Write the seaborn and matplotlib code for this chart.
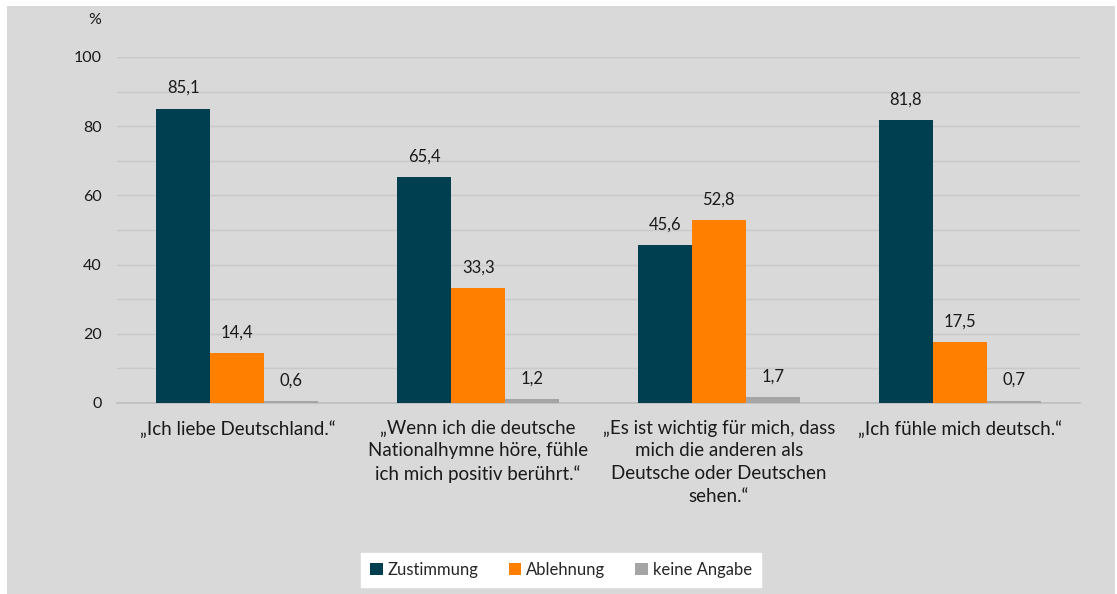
import pandas as pd
import matplotlib.pyplot as plt
from matplotlib.patches import Rectangle
import seaborn as sns

# Aussagen (x-Achse)
statements = [
    "\u201eIch liebe Deutschland.\u201c",
    "\u201eWenn ich die deutsche\nNationalhymne h\u00f6re, f\u00fchle\nich mich positiv ber\u00fchrt.\u201c",
    "\u201eEs ist wichtig f\u00fcr mich, dass\nmich die anderen als\nDeutsche oder Deutschen\nsehen.\u201c",
    "\u201eIch f\u00fchle mich deutsch.\u201c",
]
answers = ["Zustimmung", "Ablehnung", "keine Angabe"]

zustimmung = [85.1, 65.4, 45.6, 81.8]
ablehnung = [14.4, 33.3, 52.8, 17.5]
keine_angabe = [0.6, 1.2, 1.7, 0.7]

colors = ["#003f4f", "#ff7f00", "#a5a5a5"]

df = pd.DataFrame({
    "statement": statements * 3,
    "answer": [a for a in answers for _ in statements],
    "value": zustimmung + ablehnung + keine_angabe,
})

sns.set_theme(style="white")
plt.rcParams["font.family"] = ["Lato", "DejaVu Sans"]

fig = plt.figure(figsize=(11.17, 5.94), dpi=100, facecolor="white")
# grauer Hintergrund mit schmalem weissen Rand
fig.patches.append(Rectangle((7 / 1117, 0), 1108 / 1117, 588 / 594,
                             transform=fig.transFigure, facecolor="#d9d9d9",
                             edgecolor="none", zorder=-10))

ax = fig.add_axes([117 / 1117, 1 - 403 / 594, 963 / 1117, 346 / 594])
ax.set_facecolor("none")

sns.barplot(data=df, x="statement", y="value", hue="answer",
            palette=colors, width=0.673, ax=ax, legend=True,
            saturation=1, linewidth=0, zorder=3)

for cont in ax.containers:
    ax.bar_label(cont, labels=[f"{v:.1f}".replace(".", ",") for v in cont.datavalues],
                 padding=9, fontsize=12, color="#1a1a1a")

ax.set_ylim(0, 100)
ax.set_yticks(range(0, 101, 20))
ax.set_yticks(range(10, 100, 20), minor=True)
ax.grid(axis="y", which="both", color="#c9c9c9", linewidth=1, zorder=0)
ax.set_axisbelow(True)
ax.set_xlabel("")
ax.set_ylabel("")
ax.tick_params(axis="y", length=0, pad=11, labelsize=11.5, labelcolor="#1a1a1a")
ax.tick_params(axis="y", which="minor", length=0)
ax.tick_params(axis="x", length=0, pad=12, labelsize=13.5, labelcolor="#1a1a1a")
for lab in ax.get_xticklabels():
    lab.set_linespacing(1.4)
for s in ["top", "right", "left"]:
    ax.spines[s].set_visible(False)
ax.spines["bottom"].set_color("#bfbfbf")

fig.text(95 / 1117, 1 - 20 / 594, "%", ha="center", va="center",
         fontsize=11.5, color="#1a1a1a")

handles, labels = ax.get_legend_handles_labels()
ax.get_legend().remove()
leg = fig.legend(handles, labels, loc="center", bbox_to_anchor=(561 / 1117, 1 - 570 / 594),
                 ncol=3, frameon=True, fancybox=False, framealpha=1, fontsize=12,
                 handlelength=0.75, handleheight=0.75, handletextpad=0.3,
                 columnspacing=1.8, borderpad=0.55)
leg.get_frame().set_facecolor("white")
leg.get_frame().set_edgecolor("white")

fig.savefig("out.png", dpi=100, facecolor="white")
